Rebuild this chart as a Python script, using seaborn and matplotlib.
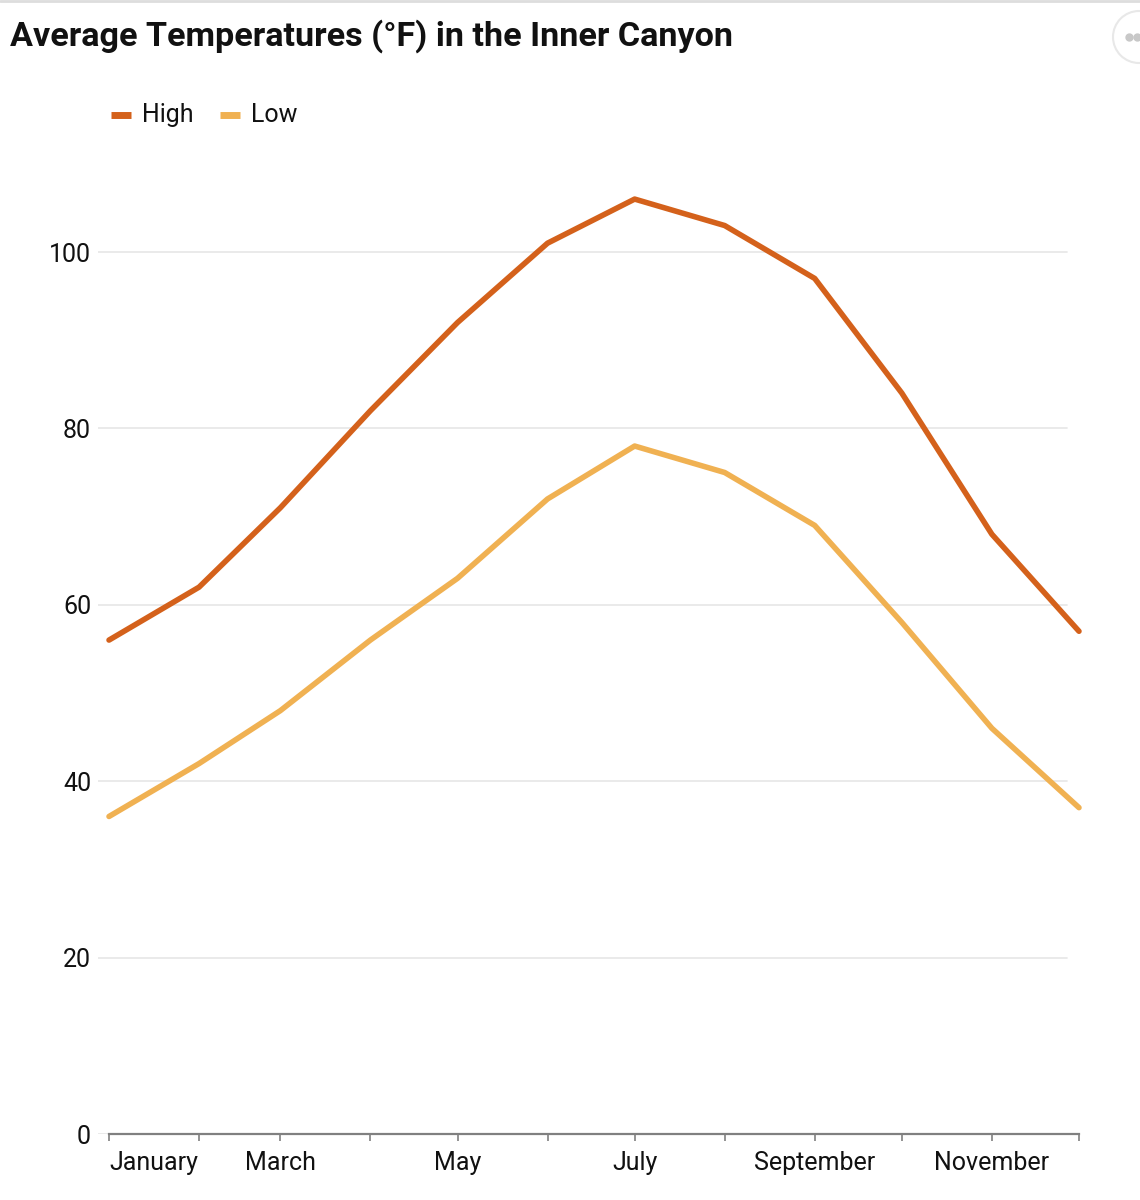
import pandas as pd
import matplotlib.pyplot as plt
import matplotlib.dates as mdates
import seaborn as sns

months = ["January", "February", "March", "April", "May", "June", "July",
          "August", "September", "October", "November", "December"]
high = [56, 62, 71, 82, 92, 101, 106, 103, 97, 84, 68, 57]
low = [36, 42, 48, 56, 63, 72, 78, 75, 69, 58, 46, 37]
series = ["High", "Low"]
colors = {"High": "#d4611b", "Low": "#f0b152"}

dates = pd.date_range("2021-01-01", periods=12, freq="MS")
df = pd.DataFrame({
    "date": list(dates) * 2,
    "temp": high + low,
    "series": ["High"] * 12 + ["Low"] * 12,
})

sns.set_style("white")
plt.rcParams["font.family"] = ["Roboto", "DejaVu Sans"]

fig = plt.figure(figsize=(11.4, 12), dpi=100)
# axes spans x 98..1079 px, y 0..110 -> 1134..164 px
ax = fig.add_axes([98 / 1140, 66 / 1200, 981 / 1140, 970.2 / 1200])

sns.lineplot(data=df, x="date", y="temp", hue="series", palette=colors,
             linewidth=4, ax=ax, legend=False, clip_on=False)

start = dates[0] - pd.Timedelta(days=3.79)
ax.set_xlim(start, dates[-1])
ax.set_ylim(0, 110)

for v in [20, 40, 60, 80, 100]:
    ax.axhline(v, xmin=0, xmax=(1067 - 98) / 981, color="#e6e6e6", lw=1.2, zorder=0)
ax.axhline(0, xmin=0, xmax=11 / 981, color="#e6e6e6", lw=1.2, zorder=0)

for s in ["top", "right", "left"]:
    ax.spines[s].set_visible(False)
ax.spines["bottom"].set_bounds(mdates.date2num(dates[0]), mdates.date2num(dates[-1]))
ax.spines["bottom"].set_color("#808080")
ax.spines["bottom"].set_linewidth(1.6)

ax.set_xticks(dates)
ax.set_xticklabels([m if i % 2 == 0 else "" for i, m in enumerate(months)])
lbls = ax.get_xticklabels()
lbls[0].set_horizontalalignment("left")
ax.tick_params(axis="x", length=5, width=1.2, color="#808080", labelsize=18,
               pad=7, labelcolor="#111111", bottom=True)
ax.set_yticks([0, 20, 40, 60, 80, 100])
ax.tick_params(axis="y", length=0, labelsize=18, pad=5, labelcolor="#111111")
ax.set_xlabel("")
ax.set_ylabel("")

fig.text(10 / 1140, 1 - 36 / 1200, "Average Temperatures (°F) in the Inner Canyon",
         fontsize=24.6, fontweight="bold", va="center", ha="left", color="#111111")

# legend
for name, x0 in zip(series, [111, 220]):
    fig.add_artist(plt.Line2D([x0 / 1140, (x0 + 20) / 1140], [1 - 115 / 1200] * 2,
                              color=colors[name], lw=5, solid_capstyle="butt"))
    fig.text((x0 + 31) / 1140, 1 - 115 / 1200, name, fontsize=18, va="center",
             ha="left", color="#111111")

fig.add_artist(plt.Line2D([0, 1], [1 - 1 / 1200] * 2, color="#dddddd", lw=2))

# menu button in the top right corner
btn = plt.Circle((1139 / 1140, 1 - 37 / 1200), 26 / 1140, transform=fig.transFigure,
                 fill=False, edgecolor="#e8e8e8", lw=1.5)
btn.set_transform(fig.dpi_scale_trans)
btn.center = (1139 / 100, (1200 - 37) / 100)
btn.set_radius(0.26)
fig.add_artist(btn)
for dx in [1129, 1137]:
    fig.add_artist(plt.Line2D([dx / 1140], [1 - 37 / 1200], marker="o", ms=5,
                              color="#c8c8c8", lw=0))

fig.savefig("out.png", dpi=100)
